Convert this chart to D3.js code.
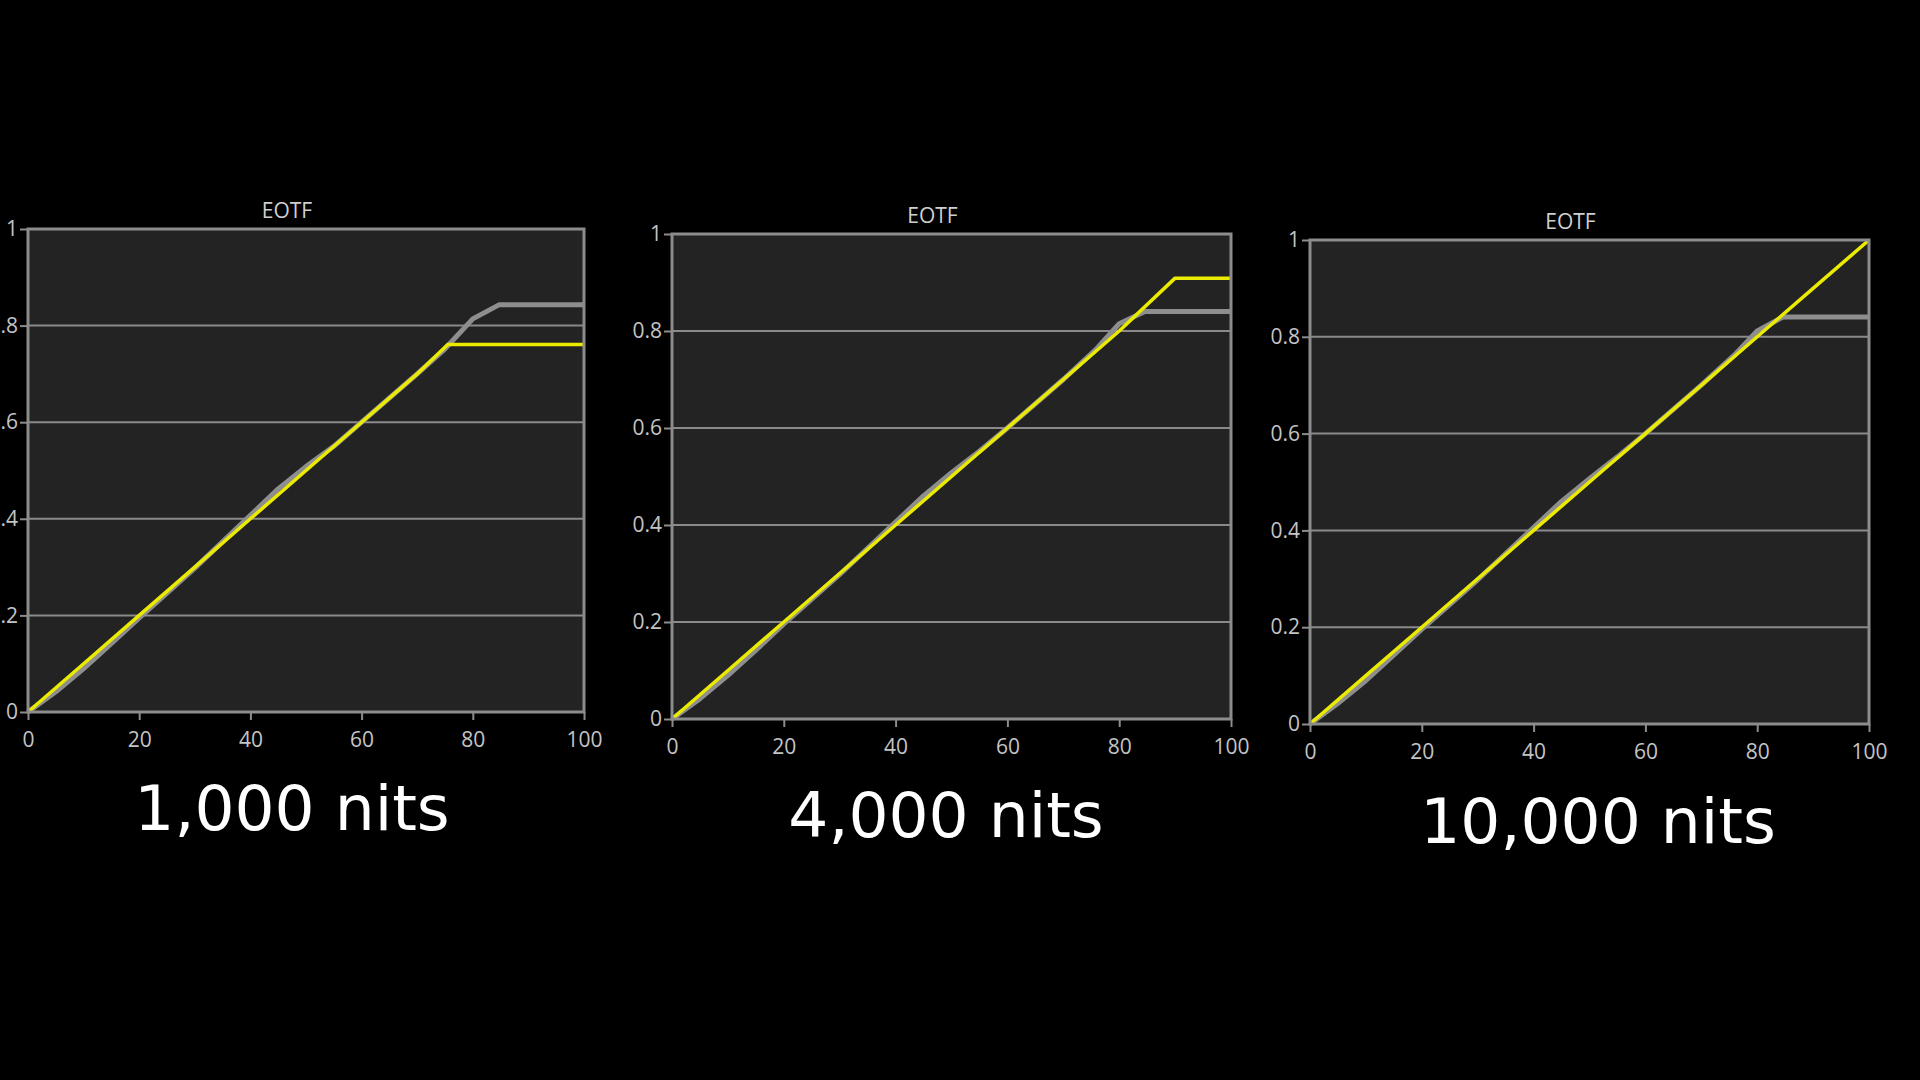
<!DOCTYPE html>
<html>
<head>
<meta charset="utf-8">
<script src="https://cdn.jsdelivr.net/npm/d3@7"></script>
<style>
    html, body { margin: 0; padding: 0; background: #000; overflow: hidden; }
    svg { display: block; }
    .tick text { font-family: "Open Sans", sans-serif; font-size: 21px; fill: #c4c4c4; }
    .tick line { stroke: #8c8c8c; stroke-width: 2; }
    .domain { display: none; }
</style>
</head>
<body>
<div id="chart"></div>
<script>
// Data: x = input signal (%), y = normalised output
const xTicks = [0, 20, 40, 60, 80, 100];
const yTicks = [0, 0.2, 0.4, 0.6, 0.8, 1];
const panelTitles = ["EOTF", "EOTF", "EOTF"];
const panelLabels = ["1,000 nits", "4,000 nits", "10,000 nits"];

// measured (gray) curves
const gray1000 = [[0, 0], [5, 0.042], [10, 0.09], [15, 0.142], [20, 0.195], [30, 0.298], [40, 0.407],
    [45, 0.462], [50, 0.508], [55, 0.55], [60, 0.6], [70, 0.7], [75, 0.752], [80, 0.814], [84.7, 0.843], [100, 0.843]];
const gray4000 = [[0, 0], [5, 0.042], [10, 0.09], [15, 0.142], [20, 0.196], [30, 0.298], [40, 0.406],
    [45, 0.46], [50, 0.508], [55, 0.552], [60, 0.6], [70, 0.7], [76, 0.764], [80, 0.815], [84.6, 0.84], [100, 0.84]];
const gray10000 = [[0, 0], [5, 0.043], [10, 0.09], [15, 0.143], [20, 0.196], [30, 0.298], [40, 0.406],
    [45, 0.46], [50, 0.507], [55, 0.552], [60, 0.6], [70, 0.7], [76, 0.763], [80, 0.812], [84.6, 0.841], [100, 0.841]];

// target (yellow) curves
const yellow1000 = [[0, 0], [10, 0.1], [20, 0.2], [30, 0.3], [40, 0.4], [50, 0.5], [60, 0.6], [70, 0.7], [75.5, 0.761], [100, 0.761]];
const yellow4000 = [[0, 0], [10, 0.1], [20, 0.2], [30, 0.3], [40, 0.4], [50, 0.5], [60, 0.6], [70, 0.7], [80, 0.8], [90, 0.909], [100, 0.909]];
const yellow10000 = [[0, 0], [10, 0.1], [20, 0.2], [30, 0.3], [40, 0.4], [50, 0.5], [60, 0.6], [70, 0.7], [80, 0.8], [90, 0.9], [100, 1]];

const graySeries = [gray1000, gray4000, gray10000];
const yellowSeries = [yellow1000, yellow4000, yellow10000];

// plot boxes and label anchors (layout only)
const layout = [
    { left: 28, right: 584, top: 229, bottom: 712, labelX: 292, labelY: 830 },
    { left: 672, right: 1231, top: 234, bottom: 719, labelX: 946, labelY: 837 },
    { left: 1310, right: 1869, top: 240, bottom: 724, labelX: 1598, labelY: 843 }
];

const width = 1920;
const height = 1080;

const svg = d3.select("#chart")
    .append("svg")
    .attr("width", width)
    .attr("height", height);

svg.append("rect")
    .attr("width", width)
    .attr("height", height)
    .attr("fill", "#000");

const fmtY = d => (d === 0 || d === 1) ? String(d) : d.toFixed(1);

layout.forEach((box, i) => {
    const x = d3.scaleLinear().domain([0, 100]).range([box.left, box.right]);
    const y = d3.scaleLinear().domain([0, 1]).range([box.bottom, box.top]);
    const g = svg.append("g");

    // plot background
    g.append("rect")
        .attr("x", box.left)
        .attr("y", box.top)
        .attr("width", box.right - box.left)
        .attr("height", box.bottom - box.top)
        .attr("fill", "#232323");

    // horizontal grid
    g.append("g")
        .selectAll("line")
        .data(yTicks.filter(t => t > 0 && t < 1))
        .join("line")
        .attr("x1", box.left)
        .attr("x2", box.right)
        .attr("y1", d => y(d))
        .attr("y2", d => y(d))
        .attr("stroke", "#8a8a8a")
        .attr("stroke-width", 2);

    // axes
    g.append("g")
        .attr("transform", `translate(0,${box.bottom})`)
        .call(d3.axisBottom(x).tickValues(xTicks).tickSize(8).tickPadding(12).tickFormat(d3.format("d")));

    g.append("g")
        .attr("transform", `translate(${box.left},0)`)
        .call(d3.axisLeft(y).tickValues(yTicks).tickSize(8).tickPadding(2).tickFormat(fmtY));

    const line = d3.line()
        .x(d => x(d[0]))
        .y(d => y(d[1]));

    g.append("path")
        .datum(graySeries[i])
        .attr("d", line)
        .attr("fill", "none")
        .attr("stroke", "#8e8e8e")
        .attr("stroke-width", 5)
        .attr("stroke-linejoin", "round");

    g.append("path")
        .datum(yellowSeries[i])
        .attr("d", line)
        .attr("fill", "none")
        .attr("stroke", "#ebeb00")
        .attr("stroke-width", 3.5)
        .attr("stroke-linejoin", "round");

    // frame
    g.append("rect")
        .attr("x", box.left)
        .attr("y", box.top)
        .attr("width", box.right - box.left)
        .attr("height", box.bottom - box.top)
        .attr("fill", "none")
        .attr("stroke", "#8c8c8c")
        .attr("stroke-width", 3);

    g.append("text")
        .attr("x", (box.left + box.right) / 2 - 19)
        .attr("y", box.top - 11)
        .attr("text-anchor", "middle")
        .attr("font-family", "'Open Sans', sans-serif")
        .attr("font-size", 21)
        .attr("fill", "#cfcfcf")
        .text(panelTitles[i]);

    svg.append("text")
        .attr("x", box.labelX)
        .attr("y", box.labelY)
        .attr("text-anchor", "middle")
        .attr("font-family", "'DejaVu Sans', sans-serif")
        .attr("font-size", 63)
        .attr("fill", "#fff")
        .text(panelLabels[i]);
});
</script>
</body>
</html>
